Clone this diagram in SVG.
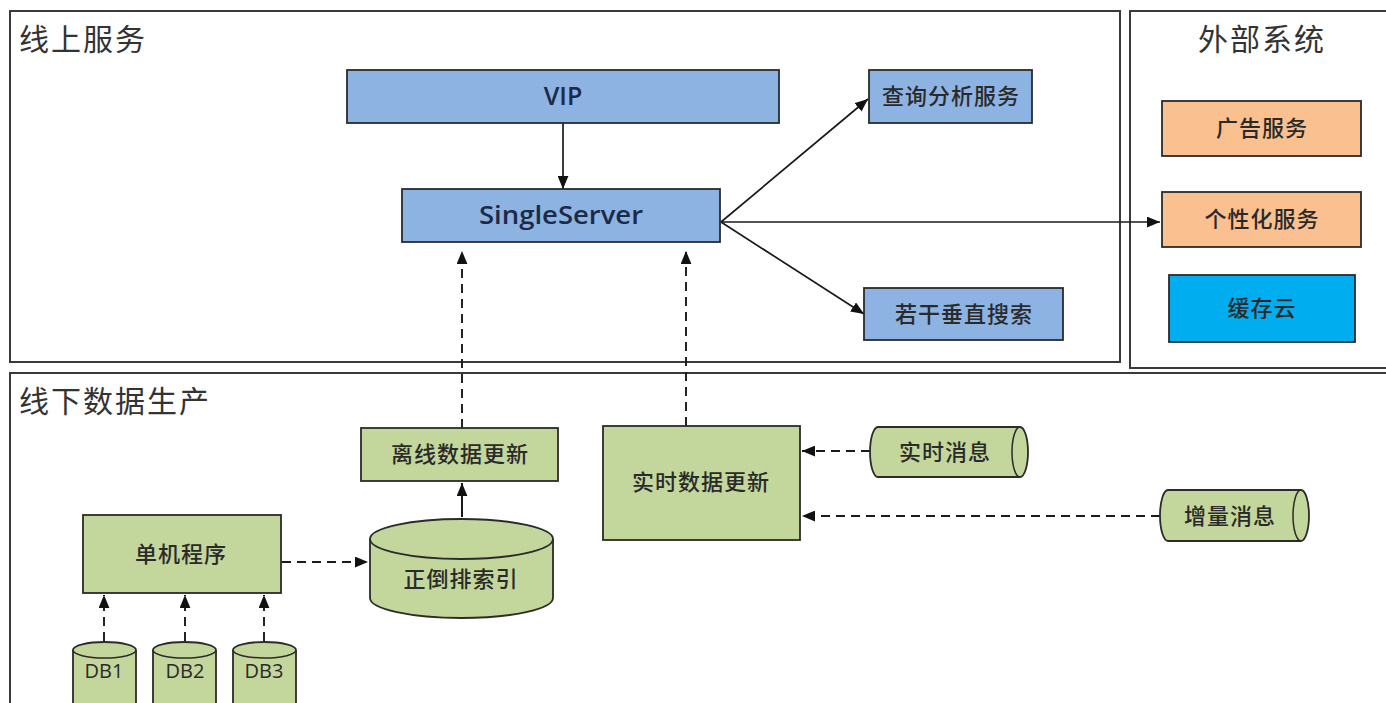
<svg xmlns="http://www.w3.org/2000/svg" width="1386" height="703" viewBox="0 0 1386 703">
<style>
.bg{fill:#ffffff}
.grp{fill:#ffffff;stroke:#3a3a3a;stroke-width:2}
.blue{fill:#8db3e2;stroke:#2b2b2b;stroke-width:1.8}
.orange{fill:#fac090;stroke:#2b2b2b;stroke-width:1.8}
.cyan{fill:#00aeef;stroke:#2b2b2b;stroke-width:1.8}
.green{fill:#c3d69b;stroke:#2b2b2b;stroke-width:1.8}
.title{font-family:"Noto Sans CJK SC","Noto Sans",sans-serif;font-size:30px;fill:#333333;letter-spacing:2px}
.lbl{font-family:"Noto Sans CJK SC","Noto Sans",sans-serif;font-size:22px;font-weight:500;fill:#2a2a2a;text-anchor:middle;letter-spacing:1px}
.en{font-family:"Open Sans","Noto Sans",sans-serif;font-size:25px;font-weight:600;fill:#1c2a48;text-anchor:middle}
.db{font-family:"Open Sans","Noto Sans",sans-serif;font-size:20px;fill:#2a2a2a;text-anchor:middle}
.solid{fill:none;stroke:#1a1a1a;stroke-width:1.7}
.dash{fill:none;stroke:#1a1a1a;stroke-width:1.9;stroke-dasharray:9 6}
</style>
<defs>
<marker id="ah" viewBox="0 0 12 10" refX="12" refY="5" markerWidth="13" markerHeight="11" markerUnits="userSpaceOnUse" orient="auto">
<path d="M0,0 L12,5 L0,10 Z" fill="#111111"/>
</marker>
</defs>
<rect class="bg" x="0" y="0" width="1386" height="703"/>

<g id="online">
<rect class="grp" x="10" y="11" width="1110" height="351"/>
<text class="title" x="19" y="50">线上服务</text>
</g>
<g id="external">
<rect class="grp" x="1130" y="11" width="262" height="357"/>
<text class="title" x="1262" y="50" text-anchor="middle">外部系统</text>
</g>
<g id="offline">
<rect class="grp" x="10" y="373" width="1390" height="340"/>
<text class="title" x="19" y="412">线下数据生产</text>
</g>

<g id="connectors">
<line class="solid" x1="563" y1="123" x2="563" y2="189" marker-end="url(#ah)"/>
<line class="solid" x1="721" y1="222" x2="868" y2="99" marker-end="url(#ah)"/>
<line class="solid" x1="721" y1="222" x2="1160" y2="222" marker-end="url(#ah)"/>
<line class="solid" x1="721" y1="222" x2="864" y2="314" marker-end="url(#ah)"/>
<line class="dash" x1="462" y1="428" x2="462" y2="251" marker-end="url(#ah)"/>
<line class="dash" x1="686" y1="426" x2="686" y2="251" marker-end="url(#ah)"/>
<line class="solid" x1="462" y1="517" x2="462" y2="483" marker-end="url(#ah)" style="stroke-width:2"/>
<line class="dash" x1="282" y1="562" x2="368" y2="562" marker-end="url(#ah)"/>
<line class="dash" x1="104" y1="641" x2="104" y2="595" marker-end="url(#ah)"/>
<line class="dash" x1="185" y1="641" x2="185" y2="595" marker-end="url(#ah)"/>
<line class="dash" x1="264" y1="641" x2="264" y2="595" marker-end="url(#ah)"/>
<line class="dash" x1="870" y1="451" x2="802" y2="451" marker-end="url(#ah)"/>
<line class="dash" x1="1160" y1="516" x2="802" y2="516" marker-end="url(#ah)"/>
</g>

<g id="vip">
<rect class="blue" x="347" y="70" width="432" height="53"/>
<text class="en" x="563" y="105">VIP</text>
</g>
<g id="singleserver">
<rect class="blue" x="402" y="189" width="318" height="53"/>
<text class="en" x="561" y="224" textLength="164" lengthAdjust="spacingAndGlyphs">SingleServer</text>
</g>
<g id="query">
<rect class="blue" x="869" y="70" width="163" height="53"/>
<text class="lbl" x="951" y="104">查询分析服务</text>
</g>
<g id="vertical">
<rect class="blue" x="864" y="288" width="199" height="52"/>
<text class="lbl" x="964" y="322">若干垂直搜索</text>
</g>
<g id="ad">
<rect class="orange" x="1162" y="101" width="199" height="55"/>
<text class="lbl" x="1262" y="136">广告服务</text>
</g>
<g id="personal">
<rect class="orange" x="1162" y="192" width="199" height="55"/>
<text class="lbl" x="1262" y="227">个性化服务</text>
</g>
<g id="cache">
<rect class="cyan" x="1169" y="275" width="186" height="67"/>
<text class="lbl" x="1262" y="316">缓存云</text>
</g>

<g id="offline-update">
<rect class="green" x="361" y="428" width="197" height="53"/>
<text class="lbl" x="460" y="462">离线数据更新</text>
</g>
<g id="realtime-update">
<rect class="green" x="603" y="426" width="197" height="114"/>
<text class="lbl" x="701" y="490">实时数据更新</text>
</g>
<g id="realtime-msg">
<path class="green" d="M878,427 L1020,427 A8,25 0 0 1 1020,477 L878,477 A8,25 0 0 1 878,427 Z"/>
<path class="solid" style="stroke:#2b2b2b;stroke-width:1.5" d="M1020,427 A8,25 0 0 0 1020,477"/>
<text class="lbl" x="945" y="460">实时消息</text>
</g>
<g id="incr-msg">
<path class="green" d="M1168,490 L1301,490 A8,25.5 0 0 1 1301,541 L1168,541 A8,25.5 0 0 1 1168,490 Z"/>
<path class="solid" style="stroke:#2b2b2b;stroke-width:1.5" d="M1301,490 A8,25.5 0 0 0 1301,541"/>
<text class="lbl" x="1230" y="524">增量消息</text>
</g>
<g id="single-program">
<rect class="green" x="83" y="515" width="198" height="78"/>
<text class="lbl" x="181" y="562">单机程序</text>
</g>
<g id="index">
<path class="green" d="M370,539 A91.5,20 0 0 1 553,539 L553,598 A91.5,20 0 0 1 370,598 Z"/>
<path class="solid" style="stroke:#2b2b2b;stroke-width:1.8" d="M370,539 A91.5,20 0 0 0 553,539"/>
<text class="lbl" x="461" y="587">正倒排索引</text>
</g>
<g id="db1">
<path class="green" d="M73,650 A31.5,8 0 0 1 136,650 L136,712 L73,712 Z"/>
<path class="solid" style="stroke:#2b2b2b;stroke-width:1.5" d="M73,650 A31.5,8 0 0 0 136,650"/>
<text class="db" x="104" y="678">DB1</text>
</g>
<g id="db2">
<path class="green" d="M153,650 A31.5,8 0 0 1 216,650 L216,712 L153,712 Z"/>
<path class="solid" style="stroke:#2b2b2b;stroke-width:1.5" d="M153,650 A31.5,8 0 0 0 216,650"/>
<text class="db" x="185" y="678">DB2</text>
</g>
<g id="db3">
<path class="green" d="M233,650 A31.5,8 0 0 1 296,650 L296,712 L233,712 Z"/>
<path class="solid" style="stroke:#2b2b2b;stroke-width:1.5" d="M233,650 A31.5,8 0 0 0 296,650"/>
<text class="db" x="264" y="678">DB3</text>
</g>
</svg>
